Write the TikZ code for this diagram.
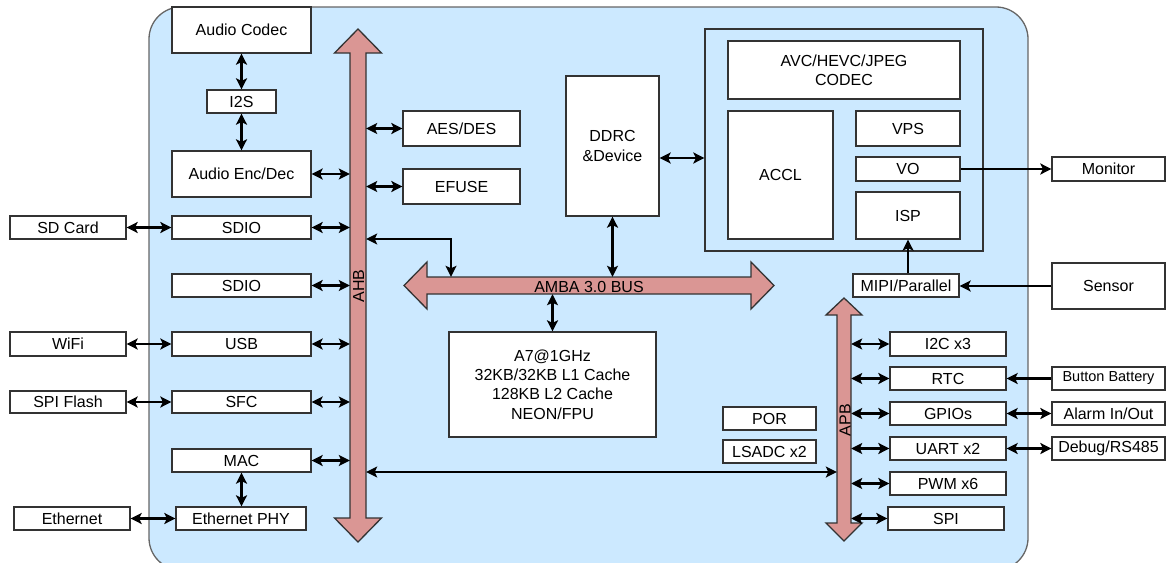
\documentclass[tikz,border=0pt]{standalone}
\usepackage{fontspec}
\setmainfont{Liberation Sans}
\usetikzlibrary{arrows.meta,calc}
\definecolor{chipbg}{RGB}{204,233,255}
\definecolor{busfill}{RGB}{218,150,148}
\definecolor{edgecol}{RGB}{51,51,51}
\newcommand\chipbox[7][]{\node[box,#1,minimum width={(#5-#3)*1pt},minimum height={(#6-#4)*1pt}] (#2) at ({(#3+#5)/2},{(#4+#6)/2}) {#7};}
\begin{document}
\begin{tikzpicture}[x=1pt,y=-1pt,
  box/.style={draw=edgecol, line width=1.3pt, fill=white, inner sep=0pt, font=\fontsize{16}{19.3}\selectfont, align=center},
  small/.style={font=\fontsize{14.5}{17}\selectfont},
  tipk/.tip={Stealth[length=11pt,width=11pt,inset=2.5pt]},
  dbl/.style={line width=2.2pt, tipk-tipk},
  one/.style={line width=2.2pt, -tipk},
  bus/.style={draw=edgecol, line width=1.3pt, fill=busfill},
  lbl/.style={inner sep=0pt, font=\fontsize{16}{19.3}\selectfont},
  shaft/.style={inner sep=0pt, draw=none, fill=none},
]
\clip (0,0) rectangle (1166,562);
% chip background
\draw[draw=edgecol!75, fill=chipbg, line width=1.3pt, rounded corners=32pt] (149,7) rectangle (1028,570);

% video subsystem
\chipbox[fill=chipbg]{vbox}{705}{29}{983}{251}{}

% AHB bus
\path[bus] (358,29) -- (381.5,53) -- (366,53) -- (366,518) -- (381.5,518) -- (358,542)
  -- (334.5,518) -- (350,518) -- (350,53) -- (334.5,53) -- cycle;
\node[shaft, minimum width=16pt, minimum height=465pt] (ahb) at (358,285.5) {};
\node[lbl, rotate=90] (ahbl) at (358.5,286) {AHB};

% AMBA bus
\path[bus] (404,285.5) -- (427,262) -- (427,277) -- (751,277) -- (751,262) -- (774,285.5)
  -- (751,309) -- (751,294) -- (427,294) -- (427,309) -- cycle;
\node[shaft, minimum width=324pt, minimum height=17pt] (amba) at (589,285.5) {};
\node[lbl] (ambal) at (589,286.5) {AMBA 3.0 BUS};

% APB bus
\path[bus] (844,298) -- (862,315) -- (851,315) -- (851,523) -- (862,523) -- (844,541)
  -- (826,523) -- (837,523) -- (837,315) -- (826,315) -- cycle;
\node[shaft, minimum width=14pt, minimum height=208pt] (apb) at (844,419) {};
\node[lbl, rotate=90] (apbl) at (845,420) {APB};

% left column
\chipbox{ac}{172}{7}{311}{53}{Audio Codec}
\chipbox{i2s}{207}{90}{276}{113}{I2S}
\chipbox{aed}{172}{151}{311}{197}{Audio Enc/Dec}
\chipbox{sdio1}{172}{216}{311}{239}{SDIO}
\chipbox{sdio2}{172}{274}{311}{297}{SDIO}
\chipbox{usb}{172}{332}{311}{356}{USB}
\chipbox{sfc}{172}{391}{311}{413}{SFC}
\chipbox{mac}{172}{449}{311}{472}{MAC}
\chipbox{ephy}{176}{507}{306}{530}{Ethernet PHY}

% external left
\chipbox{sd}{10}{216}{126}{239}{SD Card}
\chipbox{wifi}{10}{332}{126}{356}{WiFi}
\chipbox{spif}{10}{391}{126}{413}{SPI Flash}
\chipbox{eth}{14}{507}{130}{530}{Ethernet}

% right of AHB
\chipbox{aes}{403}{111}{520}{146}{AES/DES}
\chipbox{efuse}{403}{169}{520}{204}{EFUSE}

% DDR and CPU
\chipbox{ddr}{566}{76}{659}{216}{DDRC\\\&Device}
\chipbox{cpu}{449}{332}{656}{437}{A7@1GHz\\32KB/32KB L1 Cache\\128KB L2 Cache\\NEON/FPU}

% video blocks
\chipbox{codec}{728}{41}{960}{99}{AVC/HEVC/JPEG\\CODEC}
\chipbox{accl}{728}{111}{833}{239}{ACCL}
\chipbox{vps}{856}{111}{960}{146}{VPS}
\chipbox{vo}{856}{157}{960}{181}{VO}
\chipbox{isp}{856}{192}{960}{239}{ISP}
\chipbox{mipi}{853}{274}{959}{297}{MIPI/Parallel}

% misc
\chipbox{por}{723}{407}{816}{430}{POR}
\chipbox{lsadc}{723}{440}{816}{463}{LSADC x2}

% APB peripherals
\chipbox{i2c}{890}{332}{1006}{356}{I2C x3}
\chipbox{rtc}{890}{367}{1006}{390}{RTC}
\chipbox{gpio}{890}{402}{1006}{425}{GPIOs}
\chipbox{uart}{890}{437}{1006}{460}{UART x2}
\chipbox{pwm}{890}{472}{1006}{495}{PWM x6}
\chipbox{spi}{888}{507}{1004}{530}{SPI}

% external right
\chipbox{mon}{1052}{157}{1165}{181}{Monitor}
\chipbox{sens}{1052}{263}{1165}{309}{Sensor}
\chipbox[small]{batt}{1052}{367}{1165}{390}{Button Battery}
\chipbox{alarm}{1052}{402}{1165}{425}{Alarm In/Out}
\chipbox{dbg}{1052}{437}{1165}{460}{Debug/RS485}

% helper coordinates
\coordinate (jx) at (451,239);
\coordinate (ddry) at (0,158);
\coordinate (longy) at (0,472);

% connectors: audio chain
\draw[dbl] (ac.south) -- (i2s.north);
\draw[dbl] (i2s.south) -- (aed.north);
\draw[dbl] (mac.south) -- (mac.south |- ephy.north);

% left column to AHB
\foreach \n in {aed,sdio1,sdio2,usb,sfc,mac}
  \draw[dbl] (\n.east) -- (\n.east -| ahb.west);

% external left
\draw[dbl] (sd.east) -- (sdio1.west);
\draw[dbl] (wifi.east) -- (usb.west);
\draw[dbl] (spif.east) -- (sfc.west);
\draw[dbl] (eth.east) -- (ephy.west);

% AHB right side
\draw[dbl] (aes.west -| ahb.east) -- (aes.west);
\draw[dbl] (efuse.west -| ahb.east) -- (efuse.west);
\draw[dbl] (jx -| ahb.east) -- (jx) -- (jx |- amba.north);

% DDR, CPU
\draw[dbl] (ddr.south) -- (ddr.south |- amba.north);
\draw[dbl] (ddry -| ddr.east) -- (ddry -| vbox.west);
\draw[dbl] (cpu.north |- amba.south) -- (cpu.north);

% video
\draw[one] (vo.east) -- (mon.west);
\draw[one] (isp.south |- mipi.north) -- (isp.south);
\draw[one] (sens.west) -- (sens.west -| mipi.east);

% AHB to APB
\draw[dbl] (longy -| ahb.east) -- (longy -| apb.west);

% APB peripherals
\foreach \n in {i2c,rtc,gpio,uart,pwm,spi}
  \draw[dbl] (\n.west -| apb.east) -- (\n.west);

% external right
\draw[one] (batt.west) -- (rtc.east);
\draw[dbl] (gpio.east) -- (alarm.west);
\draw[dbl] (uart.east) -- (dbg.west);
\end{tikzpicture}
\end{document}
